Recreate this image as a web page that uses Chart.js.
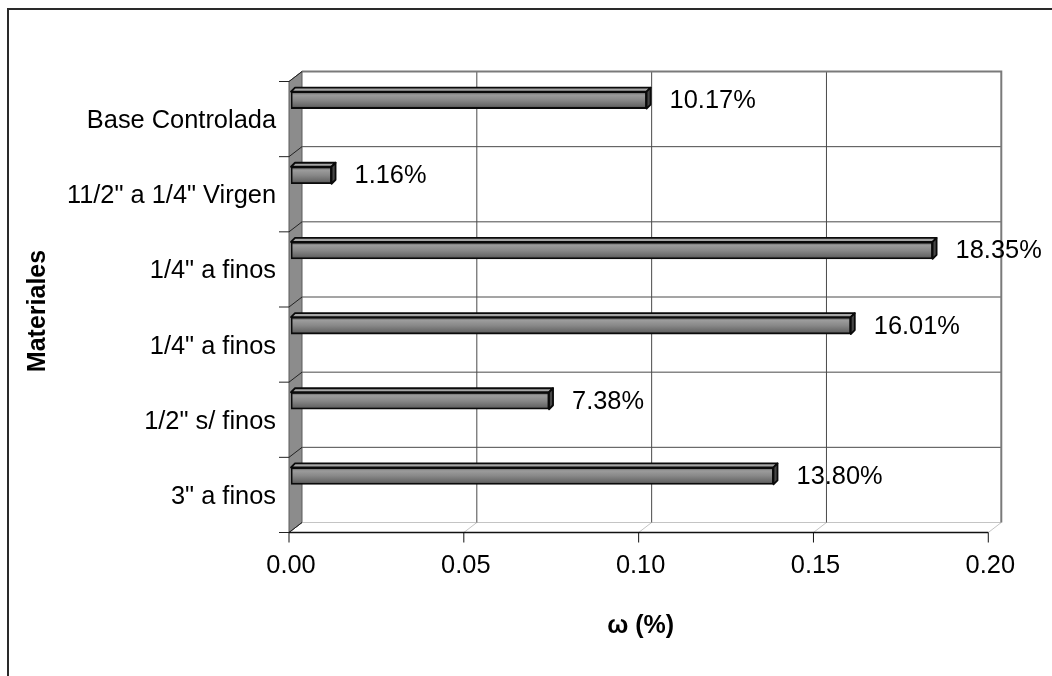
<!DOCTYPE html>
<html lang="es">
<head>
<meta charset="utf-8">
<title>Humedad por material</title>
<script src="https://cdn.jsdelivr.net/npm/chart.js@4.4.0/dist/chart.umd.min.js"></script>
<style>
  html, body { margin: 0; padding: 0; background: #fff; }
  #grafico { display: block; }
</style>
</head>
<body>
<canvas id="grafico" width="1052" height="676"></canvas>
<script>
const materiales = [
  "Base Controlada",
  '11/2" a 1/4" Virgen',
  '1/4" a finos',
  '1/4" a finos',
  '1/2" s/ finos',
  '3" a finos',
];
const humedad = [0.1017, 0.0116, 0.1835, 0.1601, 0.0738, 0.138];
const escalaX = [0, 0.05, 0.1, 0.15, 0.2];

const FUENTE = '"Liberation Sans", Arial, sans-serif';
const PROF_X = 13; // profundidad del piso / pared
const PROF_Y = 10;
const BARRA_DX = 4;
const BARRA_DY = 4;

function formatoPorcentaje(v) {
  return (v * 100).toFixed(2) + "%";
}

function poligono(ctx, puntos) {
  ctx.beginPath();
  ctx.moveTo(puntos[0][0], puntos[0][1]);
  for (let i = 1; i < puntos.length; i++) {
    ctx.lineTo(puntos[i][0], puntos[i][1]);
  }
  ctx.closePath();
}

function linea(ctx, x0, y0, x1, y1) {
  ctx.beginPath();
  ctx.moveTo(x0, y0);
  ctx.lineTo(x1, y1);
  ctx.stroke();
}

function degradadoBarra(context) {
  const chart = context.chart;
  if (!chart.chartArea) return "#808080";
  const yc = chart.scales.y.getPixelForValue(context.dataIndex);
  const g = chart.ctx.createLinearGradient(0, yc - 8.5, 0, yc + 8.5);
  g.addColorStop(0, "#505050");
  g.addColorStop(0.2, "#9c9c9c");
  g.addColorStop(0.5, "#888888");
  g.addColorStop(0.85, "#676767");
  g.addColorStop(1, "#3e3e3e");
  return g;
}

const efecto3D = {
  id: "efecto3D",
  beforeDraw(chart) {
    const ctx = chart.ctx;
    ctx.save();
    ctx.fillStyle = "#fff";
    ctx.fillRect(0, 0, chart.width, chart.height);
    // marco exterior
    ctx.strokeStyle = "#2a2a2a";
    ctx.lineWidth = 2;
    ctx.beginPath();
    ctx.moveTo(8, chart.height);
    ctx.lineTo(8, 9);
    ctx.lineTo(chart.width, 9);
    ctx.stroke();
    ctx.restore();
  },
  beforeDatasetsDraw(chart) {
    const { ctx, chartArea, scales } = chart;
    const x = scales.x;
    const y = scales.y;
    const frenteX = (v) => x.getPixelForValue(v) - 2;
    const fondoX = (v) => frenteX(v) + PROF_X;
    const fondoTop = chartArea.top + 9;
    const fondoBottom = chartArea.bottom + 9;
    const pisoY = fondoBottom + PROF_Y;
    const xMin = escalaX[0];
    const xMax = escalaX[escalaX.length - 1];

    ctx.save();
    ctx.lineCap = "butt";

    // piso: lineas diagonales
    ctx.strokeStyle = "#c4c4c4";
    ctx.lineWidth = 1;
    for (const v of escalaX) {
      linea(ctx, frenteX(v), pisoY, fondoX(v), fondoBottom);
    }
    linea(ctx, fondoX(xMin), fondoBottom, fondoX(xMax), fondoBottom);

    // pared del fondo: cuadricula
    ctx.strokeStyle = "#4a4a4a";
    ctx.lineWidth = 1;
    for (const v of escalaX.slice(1, -1)) {
      linea(ctx, fondoX(v), fondoTop, fondoX(v), fondoBottom);
    }
    for (let i = 1; i < materiales.length; i++) {
      const yb = y.getPixelForValue(i - 0.5) + 9;
      linea(ctx, fondoX(xMin), yb, fondoX(xMax), yb);
    }
    ctx.strokeStyle = "#7a7a7a";
    ctx.lineWidth = 2;
    ctx.beginPath();
    ctx.moveTo(fondoX(xMin), fondoTop);
    ctx.lineTo(fondoX(xMax), fondoTop);
    ctx.lineTo(fondoX(xMax), fondoBottom);
    ctx.stroke();

    // pared lateral
    ctx.fillStyle = "#8c8c8c";
    poligono(ctx, [
      [frenteX(xMin), fondoTop + PROF_Y],
      [fondoX(xMin), fondoTop],
      [fondoX(xMin), fondoBottom],
      [frenteX(xMin), pisoY],
    ]);
    ctx.fill();
    ctx.strokeStyle = "#5a5a5a";
    ctx.lineWidth = 1;
    ctx.stroke();

    // marcas de categorias sobre la pared
    ctx.strokeStyle = "#222";
    for (let i = 0; i <= materiales.length; i++) {
      const yb = y.getPixelForValue(i - 0.5) + 9;
      const yf = yb + PROF_Y;
      linea(ctx, frenteX(xMin) - 10, yf, frenteX(xMin), yf);
      linea(ctx, frenteX(xMin), yf, fondoX(xMin), yb);
    }

    // eje x frontal y sus marcas
    ctx.strokeStyle = "#111";
    ctx.lineWidth = 1.5;
    linea(ctx, frenteX(xMin), pisoY, frenteX(xMax), pisoY);
    ctx.lineWidth = 1;
    for (const v of escalaX) {
      linea(ctx, frenteX(v), pisoY, frenteX(v), pisoY + 10);
    }
    ctx.restore();
  },
  afterDatasetsDraw(chart) {
    const ctx = chart.ctx;
    const meta = chart.getDatasetMeta(0);
    ctx.save();
    ctx.lineWidth = 1.8;
    ctx.lineJoin = "round";
    ctx.strokeStyle = "#0a0a0a";
    meta.data.forEach((barra, i) => {
      const x0 = barra.base;
      const x1 = barra.x;
      const yt = barra.y - barra.height / 2;
      const yb = barra.y + barra.height / 2;

      // cara superior
      ctx.fillStyle = "#a6a6a6";
      poligono(ctx, [
        [x0, yt],
        [x0 + BARRA_DX, yt - BARRA_DY],
        [x1 + BARRA_DX, yt - BARRA_DY],
        [x1, yt],
      ]);
      ctx.fill();
      ctx.stroke();

      // cara lateral
      ctx.fillStyle = "#474747";
      poligono(ctx, [
        [x1, yt],
        [x1 + BARRA_DX, yt - BARRA_DY],
        [x1 + BARRA_DX, yb - BARRA_DY],
        [x1, yb],
      ]);
      ctx.fill();
      ctx.stroke();

      // etiqueta de valor
      ctx.fillStyle = "#000";
      ctx.font = "25.4px " + FUENTE;
      ctx.textAlign = "left";
      ctx.textBaseline = "middle";
      ctx.fillText(formatoPorcentaje(humedad[i]), x1 + 23, barra.y + 1);
    });
    ctx.restore();
  },
  afterDraw(chart) {
    const ctx = chart.ctx;
    ctx.save();
    ctx.translate(38, 311);
    ctx.rotate(-Math.PI / 2);
    ctx.fillStyle = "#000";
    ctx.font = "bold 25px " + FUENTE;
    ctx.textAlign = "center";
    ctx.textBaseline = "middle";
    ctx.fillText("Materiales", 0, 0);
    ctx.restore();
  },
};

const grafico = new Chart(document.getElementById("grafico"), {
  type: "bar",
  data: {
    labels: materiales,
    datasets: [
      {
        label: "ω (%)",
        data: humedad,
        backgroundColor: degradadoBarra,
        borderColor: "#0a0a0a",
        borderWidth: 1.8,
        borderSkipped: false,
        barThickness: 17,
      },
    ],
  },
  options: {
    indexAxis: "y",
    responsive: false,
    animation: false,
    events: [],
    layout: {
      padding: { top: 62.5, right: 60, bottom: 0, left: 0 },
    },
    scales: {
      x: {
        min: escalaX[0],
        max: escalaX[escalaX.length - 1],
        afterFit(scale) {
          scale.height = 676 - 513.5;
        },
        afterBuildTicks(scale) {
          scale.ticks = escalaX.map((v) => ({ value: v }));
        },
        ticks: {
          color: "#000",
          padding: 37,
          maxRotation: 0,
          font: { family: FUENTE, size: 25.4 },
          callback: (v) => Number(v).toFixed(2),
        },
        grid: { display: false, drawTicks: false },
        border: { display: false },
        title: {
          display: true,
          text: "ω (%)",
          color: "#000",
          font: { family: FUENTE, size: 25, weight: "bold" },
          padding: { top: 0, bottom: 35 },
        },
      },
      y: {
        afterFit(scale) {
          scale.width = 291;
        },
        ticks: {
          color: "#000",
          autoSkip: false,
          padding: 15,
          labelOffset: 21,
          font: { family: FUENTE, size: 25.4 },
        },
        grid: { display: false, drawTicks: false },
        border: { display: false },
      },
    },
    plugins: {
      legend: { display: false },
      tooltip: { enabled: false },
    },
  },
  plugins: [efecto3D],
});
</script>
</body>
</html>
